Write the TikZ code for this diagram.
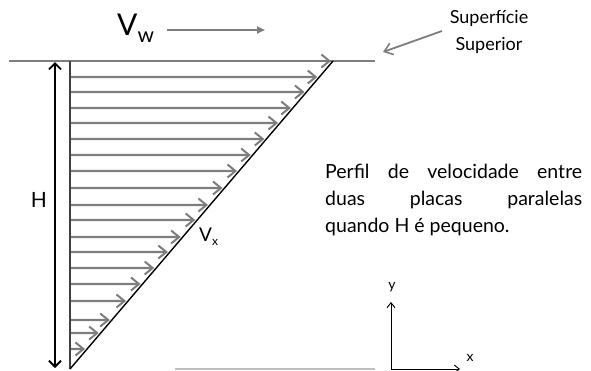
\documentclass[tikz,border=0pt]{standalone}
\usepackage{fontspec}
\setmainfont{Lato}
\usepackage{tikz}
\usetikzlibrary{arrows.meta,calc}
\definecolor{arrgray}{RGB}{125,125,125}
\definecolor{wallgray}{RGB}{64,64,64}
\definecolor{lightline}{RGB}{190,190,190}
\tikzset{
  vel/.style={draw=arrgray, line width=2.2pt, -{Straight Barb[length=8pt,width=13pt,line width=2pt]}},
  plate/.style={draw=arrgray, line width=2.6pt},
  wall/.style={draw=wallgray, line width=2.4pt},
  dim/.style={draw=black, line width=1.8pt, {Straight Barb[length=6pt,width=12pt]}-{Straight Barb[length=6pt,width=12pt]}},
  axis/.style={draw=black, line width=0.9pt, -{Straight Barb[length=5pt,width=8pt]}},
  lbl/.style={inner sep=0pt, font=\fontsize{19.5}{27}\selectfont},
}

\begin{document}
\begin{tikzpicture}[x=1pt, y=-1pt]
  \useasboundingbox (0,0) rectangle (591,370);
  % plates and profile
  \coordinate (tl) at (9,61);
  \coordinate (tr) at (375,61);
  \coordinate (wtop) at (70,61);
  \coordinate (wbot) at (70,369);
  \coordinate (dtop) at (333,61);
  \coordinate (bl) at (175,369);
  \coordinate (br) at (375,369);
  \draw[plate] (tl) -- (tr);
  \draw[draw=lightline, line width=1.4pt] (bl) -- (br);
  % velocity arrows
  \foreach \yy in {61,77,92,108,123,139,155,171,188,205,220,237,252,268,284,301,320,333,349} {
    \draw[vel] (69,\yy) -- ($(wbot)!{(369-\yy)/308}!(dtop) + (-2,0)$);
  }
  \draw[wall] (wtop) -- (wbot);
  \draw[black, line width=1.4pt] (wbot) -- (dtop);
  % height
  \coordinate (htop) at (55,62);
  \coordinate (hbot) at (55,368);
  \draw[dim] (hbot) -- (htop);
  \node[lbl, font=\fontsize{21}{21}\selectfont] (hlab) at (39,200) {H};
  \node[lbl, anchor=base west, font=\fontsize{19}{19}\selectfont] (vx) at (199,241)
    {V{\fontsize{12}{12}\selectfont\raisebox{-4pt}{x}}};
  % moving plate
  \node[lbl, anchor=base west] (vw) at (117,35)
    {{\fontsize{30}{30}\selectfont V}{\fontsize{21}{21}\selectfont\raisebox{-7pt}{w}}};
  \coordinate (vwa) at (167,30);
  \coordinate (vwb) at (265,30);
  \draw[draw=arrgray, line width=2pt, -{Triangle[length=8pt,width=7pt]}] (vwa) -- (vwb);
  \node[lbl, font=\fontsize{18}{27}\selectfont, align=center] (sup) at (489,32) {Superfície\\Superior};
  \coordinate (supa) at (442,31);
  \coordinate (supb) at (383,52);
  \draw[draw=arrgray, line width=1.8pt, -{Straight Barb[length=8pt,width=12pt,line width=1.6pt]}] (supa) -- (supb);
  % description
  \node[lbl, text width=257pt, align=justify, anchor=north west] (perfil) at (325,164)
    {Perfil de velocidade entre\linebreak duas placas paralelas\linebreak quando H é pequeno.};
  % axes
  \coordinate (o) at (391,369);
  \coordinate (yend) at (391,302);
  \coordinate (xend) at (460,369);
  \draw[axis] (o) -- (yend);
  \draw[axis] (o) -- (xend);
  \node[lbl, font=\fontsize{14}{14}\selectfont] (ylab) at (392,287) {y};
  \node[lbl, font=\fontsize{14}{14}\selectfont] (xlab) at (470,358) {x};
\end{tikzpicture}
\end{document}
